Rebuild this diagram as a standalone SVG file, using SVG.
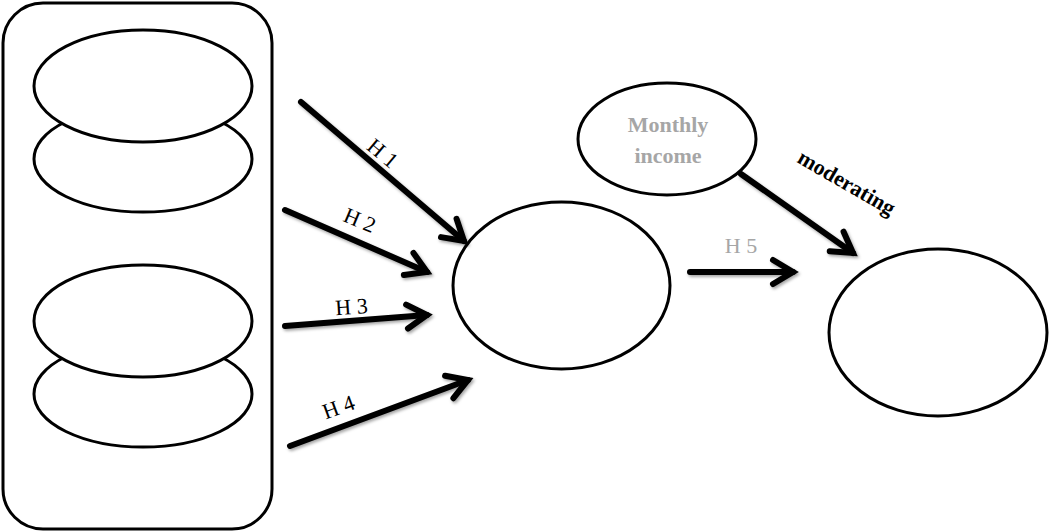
<svg xmlns="http://www.w3.org/2000/svg" width="1049" height="532" viewBox="0 0 1049 532">
<style>
.n{fill:#fff;stroke:#000;stroke-width:3}
.c{stroke:#000;stroke-width:6;fill:none;stroke-linecap:round}
.h{font-family:"Liberation Serif",serif;font-size:22px;fill:#000;text-anchor:middle}
.g{fill:#a6a6a6}
.b{font-weight:bold}
</style>
<defs>
<filter id="sh" x="-20%" y="-20%" width="140%" height="140%">
<feDropShadow dx="1.5" dy="2" stdDeviation="1.5" flood-color="#000" flood-opacity="0.35"/>
</filter>
<marker id="ah" markerUnits="userSpaceOnUse" markerWidth="40" markerHeight="40" viewBox="-30 -20 40 40" refX="0" refY="0" orient="auto" overflow="visible">
<path d="M-20,-12 L0,0 L-20,12" fill="none" stroke="#000" stroke-width="6" stroke-linecap="round" stroke-linejoin="miter"/>
</marker>
</defs>
<rect width="1049" height="532" fill="#fff"/>
<g id="group-box"><rect class="n" x="3" y="3" width="269" height="526" rx="40" ry="40"/></g>
<g id="e2"><ellipse class="n" cx="143" cy="159" rx="109" ry="53"/></g>
<g id="e1"><ellipse class="n" cx="143" cy="86" rx="109" ry="56"/></g>
<g id="e4"><ellipse class="n" cx="143" cy="394" rx="109" ry="53"/></g>
<g id="e3"><ellipse class="n" cx="143" cy="321" rx="109" ry="56"/></g>
<g id="mediator"><ellipse class="n" cx="561.5" cy="285.5" rx="108.5" ry="83.5"/></g>
<g id="income"><ellipse class="n" cx="667" cy="139" rx="89" ry="56"/>
<text class="h b g" x="668" y="132" font-size="19">Monthly</text>
<text class="h b g" x="668" y="163" font-size="19">income</text></g>
<g id="outcome"><ellipse class="n" cx="938" cy="332.5" rx="109" ry="83.5"/></g>
<g id="connectors" filter="url(#sh)">
<line class="c" x1="301" y1="102" x2="464" y2="241" marker-end="url(#ah)"/>
<line class="c" x1="285" y1="210" x2="427" y2="272" marker-end="url(#ah)"/>
<line class="c" x1="285" y1="326" x2="427" y2="315" marker-end="url(#ah)"/>
<line class="c" x1="290" y1="446" x2="468" y2="380" marker-end="url(#ah)"/>
<line class="c" x1="690" y1="272" x2="793" y2="272" marker-end="url(#ah)"/>
<line class="c" x1="741" y1="174" x2="853" y2="253" marker-end="url(#ah)"/>
</g>
<g id="labels">
<text class="h" transform="translate(378,159) rotate(40)">H 1</text>
<text class="h" transform="translate(357,227) rotate(23)">H 2</text>
<text class="h" transform="translate(352,314) rotate(-4)">H 3</text>
<text class="h" transform="translate(341,414) rotate(-20)">H 4</text>
<text class="h g" x="741" y="253">H 5</text>
<text class="h b" font-size="21" transform="translate(843,189) rotate(30)">moderating</text>
</g>
</svg>
